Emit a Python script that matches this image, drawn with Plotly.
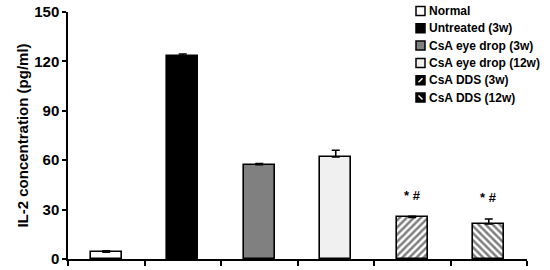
import plotly.graph_objects as go

# ── data ─────────────────────────────────────────────────────────────
groups = ["Normal", "Untreated (3w)", "CsA eye drop (3w)", "CsA eye drop (12w)",
          "CsA DDS (3w)", "CsA DDS (12w)"]
il2 = [4.2, 123.0, 57.3, 62.0, 25.3, 21.3]
il2_err = [0.8, 1.5, 0.6, 4.0, 0.6, 3.0]
sig_marks = ["", "", "", "", "* #", "* #"]

fills = ["white", "black", "#808080", "#f0f0f0", "white", "white"]
hatches = ["", "", "", "", "/", "\\"]

FONT = "Liberation Sans, Arial, sans-serif"
W, H = 550, 270
L, R, T, B = 68, 23, 12, 11


def px_x(x):
    return (x - L) / (W - L - R)


def px_y(y):
    return 1 - (y - T) / (H - T - B)


fig = go.Figure()
for g, v, e, f, h in zip(groups, il2, il2_err, fills, hatches):
    fig.add_trace(go.Bar(
        x=[g], y=[v], width=0.41, name=g, showlegend=False,
        marker=dict(color=f, line=dict(color="black", width=1.6),
                    pattern=dict(shape=h, fgcolor="black", bgcolor="white",
                                 size=5, solidity=0.5)),
        error_y=dict(type="data", array=[e], arrayminus=[0], symmetric=False,
                     color="black", thickness=1.6, width=4),
    ))

# significance marks
for g, v, e, s in zip(groups, il2, il2_err, sig_marks):
    if s:
        fig.add_annotation(x=g, y=v + e + 7, text=s, showarrow=False,
                           yanchor="bottom",
                           font=dict(family=FONT, size=13, color="black", weight="bold"))

# ── legend drawn by hand (tighter rows than plotly's legend) ─────────
row0, step = 11, 17.3
sw = 9
x0 = 416
for i, (g, f, h) in enumerate(zip(groups, fills, hatches)):
    yc = row0 + i * step
    sq_fill = "black" if h else f
    fig.add_shape(type="rect", xref="paper", yref="paper",
                  x0=px_x(x0), x1=px_x(x0 + sw), y0=px_y(yc + sw / 2), y1=px_y(yc - sw / 2),
                  fillcolor=sq_fill, line=dict(color="black", width=1.5))
    if h == "/":
        fig.add_shape(type="line", xref="paper", yref="paper",
                      x0=px_x(x0 + 2.5), x1=px_x(x0 + 6.5), y0=px_y(yc + 2), y1=px_y(yc - 2),
                      line=dict(color="white", width=1.5))
    elif h == "\\":
        fig.add_shape(type="line", xref="paper", yref="paper",
                      x0=px_x(x0 + 2.5), x1=px_x(x0 + 6.5), y0=px_y(yc - 2), y1=px_y(yc + 2),
                      line=dict(color="white", width=1.5))
    fig.add_annotation(xref="paper", yref="paper", x=px_x(x0 + sw + 2), y=px_y(yc),
                       text=g, showarrow=False, xanchor="left", yanchor="middle",
                       font=dict(family=FONT, size=12, color="black", weight="bold"))

fig.update_layout(
    width=W, height=H,
    margin=dict(l=L, r=R, t=T, b=B, autoexpand=False),
    plot_bgcolor="white", paper_bgcolor="white",
    barmode="overlay", bargap=0,
    font=dict(family=FONT, color="black"),
    xaxis=dict(categoryorder="array", categoryarray=groups, automargin=False,
               showticklabels=False, showgrid=False, zeroline=False,
               showline=True, linecolor="black", linewidth=1.5,
               ticks="outside", tickson="boundaries", ticklen=5,
               tickcolor="black", tickwidth=1.5),
    yaxis=dict(range=[0, 150], tickvals=[0, 30, 60, 90, 120, 150], automargin=False,
               showgrid=False, zeroline=False,
               showline=True, linecolor="black", linewidth=1.5,
               ticks="outside", ticklen=4, tickcolor="black", tickwidth=1.5,
               tickfont=dict(family=FONT, size=15, color="black", weight="bold"),
               title=dict(text="IL-2 concentration (pg/ml)", standoff=2,
                          font=dict(family=FONT, size=15, color="black", weight="bold"))),
)

# drop the browser's default 8px body margin so the figure sits at the window corner
fig.write_html("out.html", config={"displayModeBar": False},
               post_script="document.body.style.margin = '0';")
